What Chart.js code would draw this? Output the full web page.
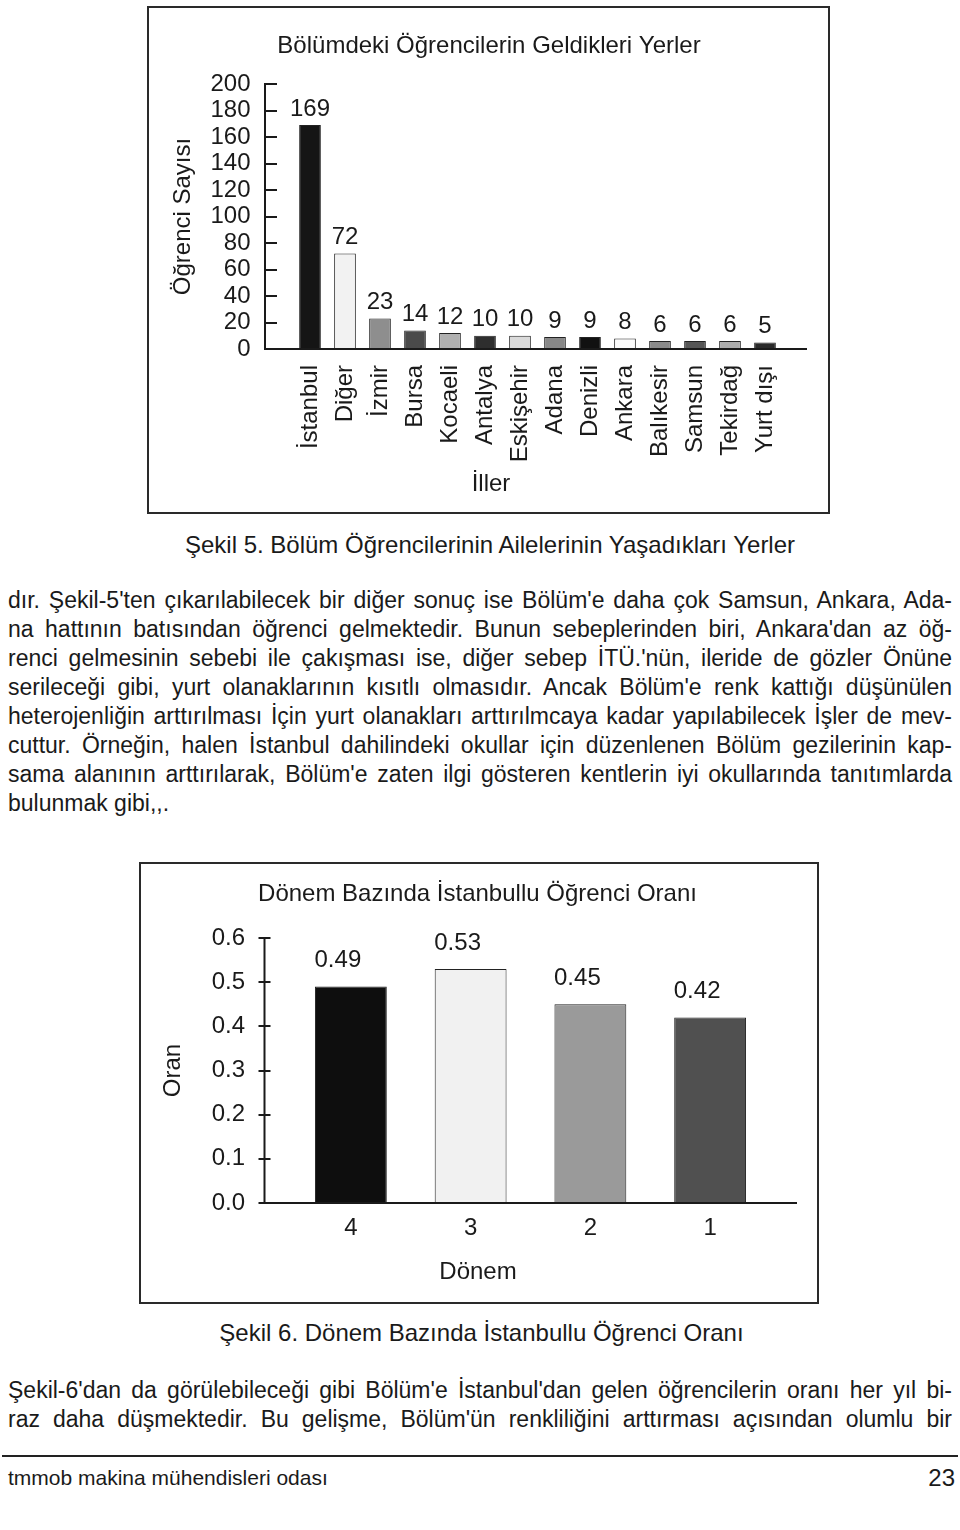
<!DOCTYPE html>
<html lang="tr">
<head>
<meta charset="utf-8">
<title>Bölümdeki Öğrencilerin Geldikleri Yerler</title>
<script src="https://cdn.jsdelivr.net/npm/chart.js@4.4.1/dist/chart.umd.min.js"></script>
<style>
  html, body { margin: 0; padding: 0; background: #ffffff; }
  body { width: 960px; height: 1530px; position: relative; overflow: hidden;
         font-family: "Liberation Sans", Arial, Helvetica, sans-serif; color: #1a1a1a; }
  .frame { position: absolute; box-sizing: border-box; border: 2px solid #2a2a2a; }
  canvas { position: absolute; }
  .cap { position: absolute; left: 0; text-align: center; font-size: 24px; line-height: 28px; white-space: nowrap; }
  .para { position: absolute; left: 8px; width: 944px; font-size: 23px; }
  .line { height: 29px; line-height: 29px; white-space: nowrap; }
  .rule { position: absolute; left: 2px; width: 956px; top: 1455px; height: 2px; background: #222; }
  .foot { position: absolute; top: 1464px; font-size: 21px; line-height: 28px; white-space: nowrap; }
</style>
</head>
<body>

<div class="frame" style="left:147px; top:6px; width:683px; height:508px;"></div>
<canvas id="chart1" width="680" height="505" style="left:148px; top:7px;"></canvas>

<div class="cap" style="top:531px; width:980px;">Şekil 5. Bölüm Öğrencilerinin Ailelerinin Yaşadıkları Yerler</div>

<div class="para" style="top:586px;">
  <div class="line j"><span>dır. Şekil-5'ten çıkarılabilecek bir diğer sonuç ise Bölüm'e daha çok Samsun, Ankara, Ada-</span></div>
  <div class="line j"><span>na hattının batısından öğrenci gelmektedir. Bunun sebeplerinden biri, Ankara'dan az öğ-</span></div>
  <div class="line j"><span>renci gelmesinin sebebi ile çakışması ise, diğer sebep İTÜ.'nün, ileride de gözler Önüne</span></div>
  <div class="line j"><span>serileceği gibi, yurt olanaklarının kısıtlı olmasıdır. Ancak Bölüm'e renk kattığı düşünülen</span></div>
  <div class="line j"><span>heterojenliğin arttırılması İçin yurt olanakları arttırılmcaya kadar yapılabilecek İşler de mev-</span></div>
  <div class="line j"><span>cuttur. Örneğin, halen İstanbul dahilindeki okullar için düzenlenen Bölüm gezilerinin kap-</span></div>
  <div class="line j"><span>sama alanının arttırılarak, Bölüm'e zaten ilgi gösteren kentlerin iyi okullarında tanıtımlarda</span></div>
  <div class="line"><span>bulunmak gibi,,.</span></div>
</div>

<div class="frame" style="left:139px; top:862px; width:680px; height:442px;"></div>
<canvas id="chart2" width="677" height="439" style="left:140px; top:863px;"></canvas>

<div class="cap" style="top:1319px; width:963px;">Şekil 6. Dönem Bazında İstanbullu Öğrenci Oranı</div>

<div class="para" style="top:1376px;">
  <div class="line j"><span>Şekil-6'dan da görülebileceği gibi Bölüm'e İstanbul'dan gelen öğrencilerin oranı her yıl bi-</span></div>
  <div class="line j"><span>raz daha düşmektedir. Bu gelişme, Bölüm'ün renkliliğini arttırması açısından olumlu bir</span></div>
</div>

<div class="rule"></div>
<div class="foot" style="left:8px;">tmmob makina mühendisleri odası</div>
<div class="foot" style="right:5px; font-size:24px;">23</div>

<script>
// ---------------- data ----------------
const cities = ['İstanbul', 'Diğer', 'İzmir', 'Bursa', 'Kocaeli', 'Antalya', 'Eskişehir',
                'Adana', 'Denizli', 'Ankara', 'Balıkesir', 'Samsun', 'Tekirdağ', 'Yurt dışı'];
const studentCounts = [169, 72, 23, 14, 12, 10, 10, 9, 9, 8, 6, 6, 6, 5];
const countAxisMin = 0;
const countAxisMax = 200;
const countAxisStep = 20;

const periods = ['4', '3', '2', '1'];
const istanbulRatios = [0.49, 0.53, 0.45, 0.42];
const ratioAxisMin = 0;
const ratioAxisMax = 0.6;
const ratioAxisStep = 0.1;

// ---------------- styles ----------------
const cityBarColors = ['#151515', '#f2f2f2', '#8e8e8e', '#4a4a4a', '#b0b0b0', '#2e2e2e', '#dadada',
                       '#888888', '#111111', '#fbfbfb', '#8a8a8a', '#565656', '#acacac', '#2a2a2a'];
const periodBarColors = ['#0e0e0e', '#f1f1f1', '#9a9a9a', '#505050'];

const FONT = '"Liberation Sans", Arial, Helvetica, sans-serif';
const INK = '#1a1a1a';
Chart.defaults.font.family = FONT;
Chart.defaults.color = INK;

// justify body lines
document.querySelectorAll('.line.j span').forEach(sp => {
  const w = sp.getBoundingClientRect().width;
  const n = (sp.textContent.match(/ /g) || []).length;
  if (n > 0) sp.style.wordSpacing = ((944 - w) / n) + 'px';
});

// plugin: axis lines with tick marks, value labels and free text
const paperAxes = {
  id: 'paperAxes',
  afterDatasetsDraw(chart, args, o) {
    const { ctx, chartArea, scales: { x, y } } = chart;
    const ax = chartArea.left + o.axisOffset;
    const yBase = y.getPixelForValue(y.min);
    const yTop = y.getPixelForValue(y.max);
    ctx.save();
    ctx.strokeStyle = INK;
    ctx.lineWidth = 2;
    ctx.beginPath();
    ctx.moveTo(ax, yTop - 1);
    ctx.lineTo(ax, yBase);
    ctx.moveTo(ax - 1, yBase);
    ctx.lineTo(chartArea.right + o.axisExtend, yBase);
    y.ticks.forEach(t => {
      const py = Math.round(y.getPixelForValue(t.value));
      ctx.moveTo(ax + o.tickFrom, py);
      ctx.lineTo(ax + o.tickTo, py);
    });
    ctx.stroke();

    ctx.fillStyle = INK;
    ctx.textAlign = 'center';
    ctx.textBaseline = 'middle';
    ctx.font = '24px ' + FONT;
    const ds = chart.data.datasets[0];
    chart.getDatasetMeta(0).data.forEach((bar, i) => {
      ctx.fillText(o.format(ds.data[i]), bar.x + o.labelDx, bar.y - o.labelGap);
    });
    (o.texts || []).forEach(t => ctx.fillText(t.text, t.x, t.y));
    ctx.restore();
  }
};

// ---------------- chart 1 ----------------
new Chart(document.getElementById('chart1'), {
  type: 'bar',
  data: {
    labels: cities,
    datasets: [{
      data: studentCounts,
      backgroundColor: cityBarColors,
      borderColor: '#222222',
      borderWidth: 1,
      categoryPercentage: 1.0,
      barPercentage: 0.62
    }]
  },
  options: {
    responsive: false,
    animation: false,
    layout: { padding: { top: 77, right: 45.5, left: 0, bottom: 0 } },
    plugins: {
      legend: { display: false },
      tooltip: { enabled: false },
      paperAxes: {
        axisOffset: -27.5, axisExtend: 24.5, tickFrom: 0, tickTo: 12,
        labelGap: 16, labelDx: 0, format: v => String(v),
        texts: [
          { text: 'Bölümdeki Öğrencilerin Geldikleri Yerler', x: 341, y: 39 },
          { text: 'İller', x: 343, y: 477 }
        ]
      }
    },
    scales: {
      x: {
        grid: { display: false, drawTicks: false },
        border: { display: false },
        ticks: { minRotation: 90, maxRotation: 90, autoSkip: false, padding: 16,
                 font: { size: 24 }, color: INK },
        afterFit: s => { s.height = 163; }
      },
      y: {
        min: countAxisMin, max: countAxisMax,
        grid: { display: false, drawTicks: false },
        border: { display: false },
        ticks: { stepSize: countAxisStep, autoSkip: false, padding: 42, font: { size: 24 }, color: INK },
        title: { display: true, text: 'Öğrenci Sayısı', font: { size: 24 }, color: INK,
                 padding: { top: 21, bottom: 0 } },
        afterFit: s => { s.width = 144.5; }
      }
    }
  },
  plugins: [paperAxes]
});

// ---------------- chart 2 ----------------
new Chart(document.getElementById('chart2'), {
  type: 'bar',
  data: {
    labels: periods,
    datasets: [{
      data: istanbulRatios,
      backgroundColor: periodBarColors,
      borderColor: '#222222',
      borderWidth: 1,
      categoryPercentage: 1.0,
      barPercentage: 0.6
    }]
  },
  options: {
    responsive: false,
    animation: false,
    layout: { padding: { top: 75, right: 47, left: 0, bottom: 0 } },
    plugins: {
      legend: { display: false },
      tooltip: { enabled: false },
      paperAxes: {
        axisOffset: -26.5, axisExtend: 27, tickFrom: -6, tickTo: 6,
        labelGap: 26, labelDx: -13, format: v => v.toFixed(2),
        texts: [
          { text: 'Dönem Bazında İstanbullu Öğrenci Oranı', x: 337.5, y: 31 },
          { text: 'Dönem', x: 338, y: 409 }
        ]
      }
    },
    scales: {
      x: {
        grid: { display: false, drawTicks: false },
        border: { display: false },
        ticks: { maxRotation: 0, padding: 11, font: { size: 24 }, color: INK },
        afterFit: s => { s.height = 99; }
      },
      y: {
        min: ratioAxisMin, max: ratioAxisMax,
        grid: { display: false, drawTicks: false },
        border: { display: false },
        ticks: { stepSize: ratioAxisStep, autoSkip: false, padding: 46, font: { size: 24 }, color: INK,
                 callback: v => Number(v).toFixed(1) },
        title: { display: true, text: 'Oran', font: { size: 24 }, color: INK,
                 padding: { top: 18.6, bottom: 0 } },
        afterFit: s => { s.width = 151; }
      }
    }
  },
  plugins: [paperAxes]
});
</script>
</body>
</html>
